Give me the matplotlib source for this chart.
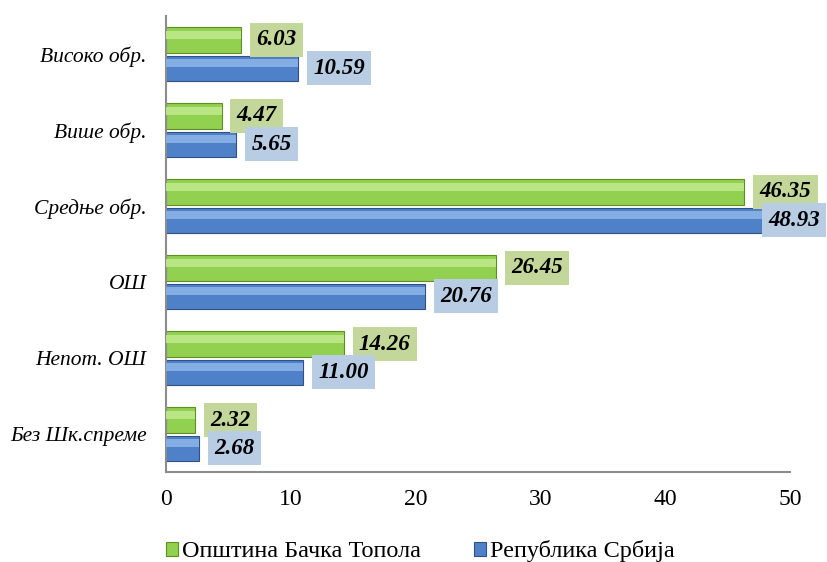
import matplotlib
matplotlib.use("Agg")
import matplotlib.pyplot as plt
import matplotlib.transforms as mtransforms
import numpy as np

categories = ["Високо обр.", "Више обр.", "Средње обр.", "ОШ", "Непот. ОШ", "Без Шк.спреме"]
series_names = ["Општина Бачка Топола", "Република Србија"]
topola = [6.03, 4.47, 46.35, 26.45, 14.26, 2.32]
srbija = [10.59, 5.65, 48.93, 20.76, 11.00, 2.68]
xticks = [0, 10, 20, 30, 40, 50]

plt.rcParams['font.family'] = ['Liberation Serif', 'DejaVu Serif']

fig = plt.figure(figsize=(8.27, 5.62), dpi=100)
ax = fig.add_axes([0.2007, 0.160, 0.7545, 0.8115])

y = np.arange(len(categories))[::-1].astype(float)
h = 0.33
off = 0.185
green, green_edge, green_box, green_hi = "#92d050", "#5e8f22", "#c4d79b", "#b9e585"
blue, blue_edge, blue_box, blue_hi = "#4f81c8", "#2f5187", "#b8cce4", "#84aee3"

bg = ax.barh(y + off, topola, height=h, color=green, edgecolor=green_edge, linewidth=0.8, label=series_names[0], zorder=2)
bb = ax.barh(y - off, srbija, height=h, color=blue, edgecolor=blue_edge, linewidth=0.8, label=series_names[1], zorder=2)
# highlight stripes for bevel look
ax.barh(y + off + h * 0.2, topola, height=h * 0.3, color=green_hi, linewidth=0, zorder=3)
ax.barh(y - off + h * 0.2, srbija, height=h * 0.3, color=blue_hi, linewidth=0, zorder=3)

xmax = 50
fs = 16.5
lab_kw = dict(ha="left", va="center", fontsize=fs, fontweight="bold", fontstyle="italic",
              annotation_clip=False)
for yi, v in zip(y + off, topola):
    ax.annotate(f"{v:.2f}", (v, yi), xytext=(15, 0), textcoords="offset pixels",
                bbox=dict(boxstyle="square,pad=0.28", fc=green_box, ec="none"), zorder=5, **lab_kw)
edge_tr = mtransforms.blended_transform_factory(fig.transFigure, ax.transData)
for yi, v in zip(y - off, srbija):
    if v > 0.9 * xmax:
        kw = dict(lab_kw); kw["ha"] = "right"
        ax.annotate(f"{v:.2f}", (1.0, yi), xycoords=edge_tr, xytext=(-7, 0), textcoords="offset pixels",
                    bbox=dict(boxstyle="square,pad=0.28", fc=blue_box, ec="none"), zorder=6, **kw)
    else:
        ax.annotate(f"{v:.2f}", (v, yi), xytext=(15, 0), textcoords="offset pixels",
                    bbox=dict(boxstyle="square,pad=0.28", fc=blue_box, ec="none"), zorder=6, **lab_kw)

ax.set_xlim(0, xmax)
ax.set_ylim(-0.5, len(categories) - 0.5)
ax.set_xticks(xticks)
ax.set_xticklabels([str(t) for t in xticks], fontsize=17)
ax.set_yticks(y)
ax.set_yticklabels(categories, fontsize=15.5, fontstyle="italic")
ax.tick_params(axis="both", length=0)
ax.tick_params(axis="x", pad=12)
ax.tick_params(axis="y", pad=14)
for s in ["top", "right"]:
    ax.spines[s].set_visible(False)
for s in ["left", "bottom"]:
    ax.spines[s].set_color("#8c8c8c")
    ax.spines[s].set_linewidth(1.5)

fig.legend(handles=[bg, bb], labels=series_names, loc="center", bbox_to_anchor=(0.508, 0.019),
           ncol=2, frameon=False, fontsize=17.5, handlelength=0.5, handleheight=0.5,
           handletextpad=0.15, columnspacing=2.2)

fig.savefig("out.png", dpi=100)
